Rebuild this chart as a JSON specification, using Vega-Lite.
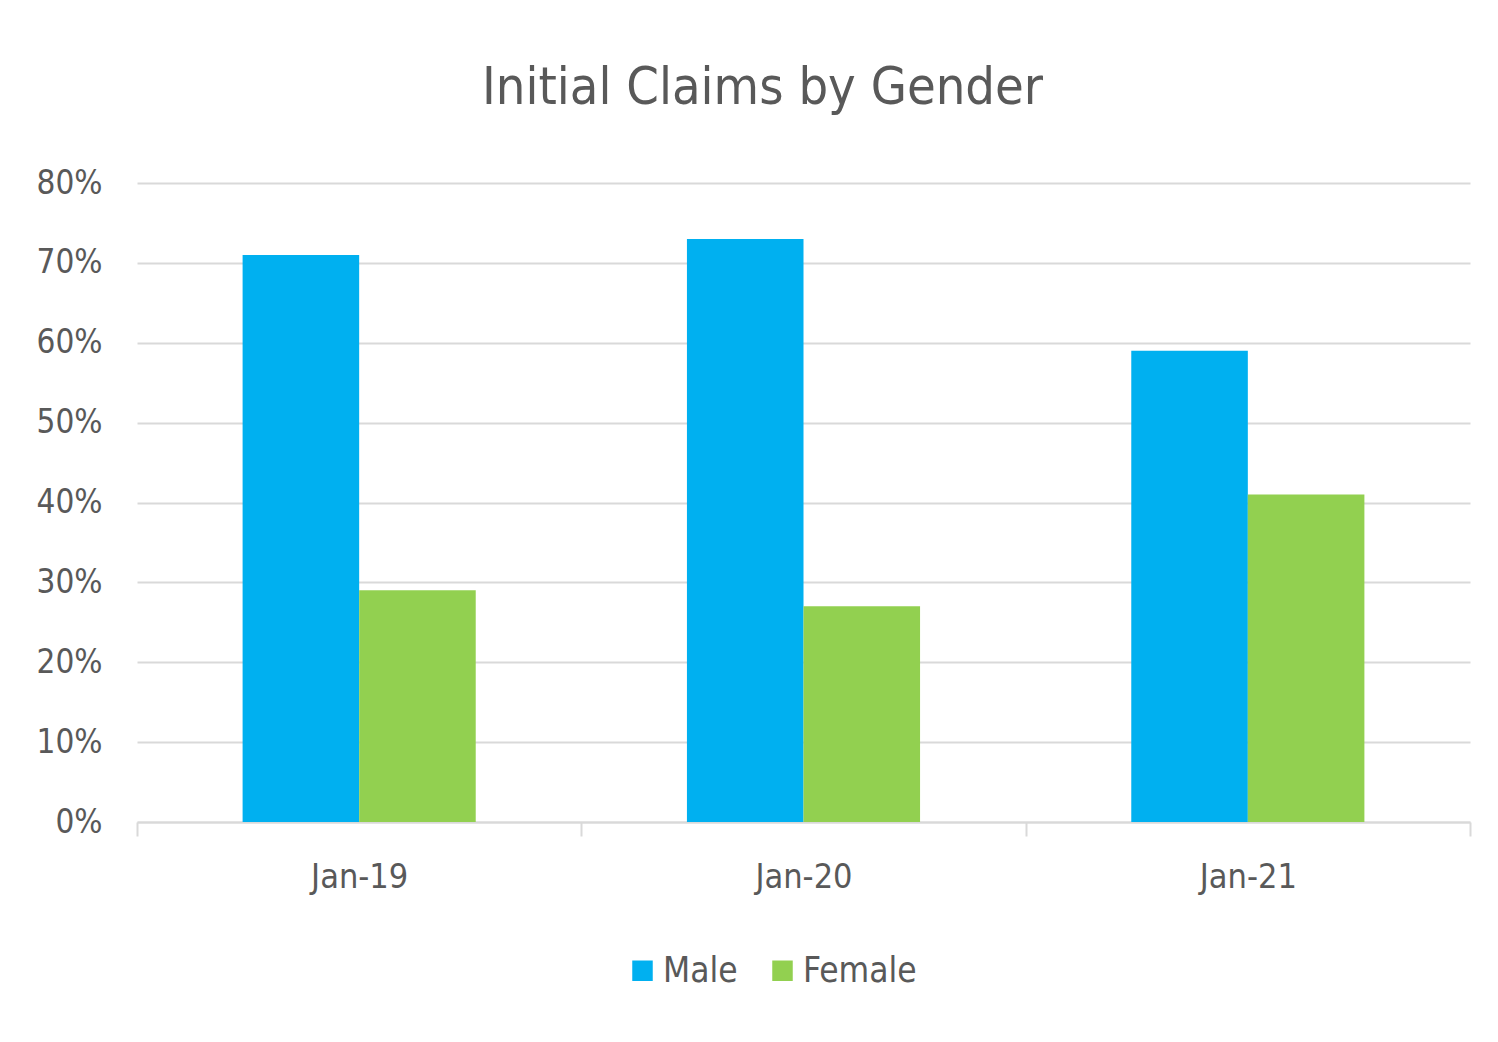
{
  "$schema": "https://vega.github.io/schema/vega-lite/v6.json",
  "autosize": {"type": "none"},
  "width": 1333,
  "height": 639,
  "padding": {"left": 137, "top": 183, "right": 28, "bottom": 220},
  "background": "white",
  "title": {
    "text": "Initial Claims by Gender",
    "font": "DejaVu Sans Condensed",
    "fontSize": 52,
    "fontWeight": "normal",
    "color": "#595959",
    "anchor": "middle",
    "dx": -41,
    "offset": 52
  },
  "data": {
    "values": [
      {"month": "Jan-19", "gender": "Male", "share": 0.71},
      {"month": "Jan-19", "gender": "Female", "share": 0.29},
      {"month": "Jan-20", "gender": "Male", "share": 0.73},
      {"month": "Jan-20", "gender": "Female", "share": 0.27},
      {"month": "Jan-21", "gender": "Male", "share": 0.59},
      {"month": "Jan-21", "gender": "Female", "share": 0.41}
    ]
  },
  "mark": {"type": "bar"},
  "encoding": {
    "x": {
      "field": "month",
      "type": "nominal",
      "scale": {"paddingInner": 0, "paddingOuter": 0},
      "axis": {
        "title": null,
        "labelAngle": 0,
        "labelFont": "DejaVu Sans Condensed",
        "labelFontSize": 34,
        "labelColor": "#595959",
        "labelPadding": 24,
        "domainColor": "#D9D9D9",
        "domainWidth": 2,
        "tickColor": "#D9D9D9",
        "tickWidth": 2,
        "tickSize": 14,
        "tickBand": "extent",
        "grid": false
      }
    },
    "xOffset": {"field": "gender", "type": "nominal", "sort": ["Male", "Female"], "scale": {"paddingInner": 0, "paddingOuter": 0.906}},
    "y": {
      "field": "share",
      "type": "quantitative",
      "scale": {"domain": [0, 0.8]},
      "axis": {
        "title": null,
        "values": [0, 0.1, 0.2, 0.3, 0.4, 0.5, 0.6, 0.7, 0.8],
        "format": ".0%",
        "labelFont": "DejaVu Sans Condensed",
        "labelFontSize": 33,
        "labelColor": "#595959",
        "labelPadding": 35,
        "domain": false,
        "ticks": false,
        "gridColor": "#D9D9D9",
        "gridWidth": 2
      }
    },
    "color": {
      "field": "gender",
      "type": "nominal",
      "sort": ["Male", "Female"],
      "scale": {"domain": ["Male", "Female"], "range": ["#00B0F0", "#92D050"]},
      "legend": {
        "title": null,
        "orient": "none",
        "direction": "horizontal",
        "legendX": 488,
        "legendY": 770,
        "symbolType": "square",
        "symbolSize": 420,
        "symbolStrokeWidth": 0,
        "labelFont": "DejaVu Sans Condensed",
        "labelFontSize": 35,
        "labelColor": "#595959",
        "labelOffset": 3,
        "columnPadding": 27
      }
    }
  },
  "config": {"view": {"stroke": null}}
}
